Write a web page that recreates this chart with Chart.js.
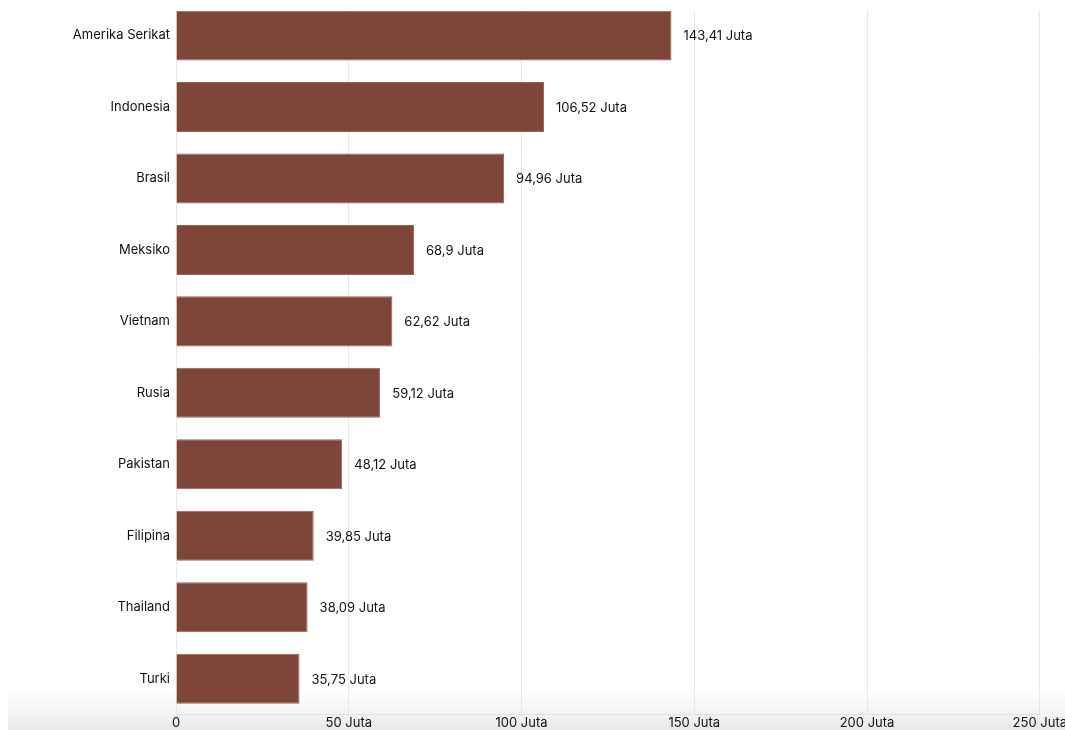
<!DOCTYPE html>
<html>
<head>
<meta charset="utf-8">
<script src="https://cdn.jsdelivr.net/npm/chart.js@4"></script>
<style>
  html, body { margin: 0; padding: 0; background: #fff; overflow: hidden; }
  #shade {
    position: absolute; left: 8px; top: 0; width: 1057px; height: 730px;
    background: linear-gradient(to bottom, #fff 0px, #fff 690px, #f4f4f4 712px, #e8e8e8 730px);
  }
  #wrap { position: absolute; left: 0; top: -14px; width: 1068px; height: 746px; }
  #topMask { position: absolute; left: 0; top: 0; width: 1065px; height: 11px; background: #fff; }
</style>
</head>
<body>
<div id="shade"></div>
<div id="wrap"><canvas id="barChart"></canvas></div>
<div id="topMask"></div>
<script>
const countries = ["Amerika Serikat", "Indonesia", "Brasil", "Meksiko", "Vietnam",
                   "Rusia", "Pakistan", "Filipina", "Thailand", "Turki"];
const users = [143.41, 106.52, 94.96, 68.9, 62.62, 59.12, 48.12, 39.85, 38.09, 35.75];
const tickValues = [0, 50, 100, 150, 200, 250];

function formatJuta(v){
    return String(v).replace(".", ",") + " Juta";
}

// value labels at the end of each bar
const valueLabels = {
    id: "valueLabels",
    afterDatasetsDraw(chart){
        const ctx = chart.ctx;
        const meta = chart.getDatasetMeta(0);
        ctx.save();
        ctx.font = "13px Inter, 'Liberation Sans', sans-serif";
        ctx.fillStyle = "#111";
        ctx.textAlign = "left";
        ctx.textBaseline = "middle";
        meta.data.forEach((bar, i) => {
            ctx.fillText(formatJuta(users[i]), bar.x + 12, bar.y + 1);
        });
        ctx.restore();
    }
};

Chart.defaults.font.family = "Inter, 'Liberation Sans', sans-serif";
Chart.defaults.font.size = 13;
Chart.defaults.color = "#111";

let ctx = document.getElementById("barChart").getContext("2d");
let chart = new Chart(ctx, {
    type: "bar",
    data: {
        labels: countries,
        datasets: [{
            data: users,
            backgroundColor: "#7e4539",
            borderColor: "#9a6358",
            borderWidth: 1,
            categoryPercentage: 1,
            barPercentage: 0.7
        }]
    },
    options: {
        indexAxis: "y",
        responsive: true,
        maintainAspectRatio: false,
        animation: false,
        layout: { padding: 0 },
        plugins: {
            legend: { display: false },
            tooltip: { enabled: false }
        },
        scales: {
            x: {
                min: 0,
                max: 250,
                afterBuildTicks(scale){
                    scale.ticks = tickValues.map(v => ({ value: v }));
                },
                ticks: {
                    padding: 1,
                    maxRotation: 0,
                    callback: v => v === 0 ? "0" : v + " Juta"
                },
                grid: { color: "#e8e8e8", drawTicks: false },
                border: { color: "#e2e2e2" }
            },
            y: {
                afterFit(scale){ scale.width = 176; },
                ticks: { padding: 6 },
                grid: { display: false, drawTicks: false },
                border: { display: false }
            }
        }
    },
    plugins: [valueLabels]
});
</script>
</body>
</html>
